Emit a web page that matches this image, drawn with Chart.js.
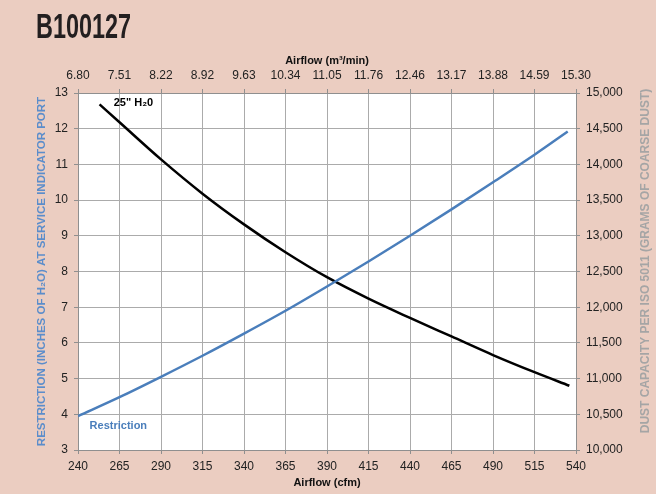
<!DOCTYPE html>
<html>
<head>
<meta charset="utf-8">
<title>B100127</title>
<script src="https://cdn.jsdelivr.net/npm/chart.js@4.4.1/dist/chart.umd.min.js"></script>
<style>
  html, body { margin: 0; padding: 0; background: #ebcdc1; }
  #wrap { width: 656px; height: 494px; }
</style>
</head>
<body>
<div id="wrap"><canvas id="filterChart" width="656" height="494"></canvas></div>
<script>
// top axis labels (m3/min), one per 25 cfm step
const m3Labels = ['6.80', '7.51', '8.22', '8.92', '9.63', '10.34', '11.05', '11.76', '12.46', '13.17', '13.88', '14.59', '15.30'];

// restriction curve, left axis (inches of H2O)
const restrictionCfm = [240, 265, 290, 315, 340, 365, 390, 415, 440, 465, 490, 515, 535];
const restrictionVals = [3.95, 4.48, 5.05, 5.64, 6.26, 6.90, 7.58, 8.28, 9.00, 9.74, 10.50, 11.27, 11.92];

// dust capacity curve at 25" H2O, right axis (grams)
const dustCfm = [253, 265, 290, 315, 340, 365, 390, 415, 440, 465, 490, 515, 536];
const dustVals = [14840, 14590, 14070, 13590, 13160, 12770, 12420, 12120, 11850, 11590, 11330, 11090, 10900];

const toPoints = (xs, ys) => xs.map((x, i) => ({ x: x, y: ys[i] }));

const FONT = '"Liberation Sans", Arial, sans-serif';
const BLUE = '#4a7ebb';
const GRID = '#ababab';
const EDGE = '#8f8f8f';

const decorPlugin = {
  id: 'decor',
  beforeDraw(chart) {
    const ctx = chart.ctx, a = chart.chartArea;
    ctx.save();
    ctx.fillStyle = '#ebcdc1';
    ctx.fillRect(0, 0, chart.width, chart.height);
    ctx.fillStyle = '#ffffff';
    ctx.fillRect(a.left, a.top, a.right - a.left, a.bottom - a.top);
    ctx.restore();
  },
  afterDraw(chart) {
    const ctx = chart.ctx;
    const x = chart.scales.x, y = chart.scales.y;
    ctx.save();
    // big model number, squeezed to a condensed look
    ctx.fillStyle = '#231f20';
    ctx.textBaseline = 'alphabetic';
    ctx.textAlign = 'left';
    ctx.font = 'bold 35px "Liberation Sans Narrow", "Liberation Sans", sans-serif';
    const w = ctx.measureText('B100127').width;
    ctx.translate(36, 38);
    ctx.scale(95 / w, 1);
    ctx.fillText('B100127', 0, 0);
    ctx.restore();

    // right axis title, reading bottom to top
    ctx.save();
    ctx.translate(646, 261);
    ctx.rotate(-Math.PI / 2);
    ctx.fillStyle = '#a5a5a5';
    ctx.font = 'bold 12px ' + FONT;
    ctx.textAlign = 'center';
    ctx.textBaseline = 'middle';
    ctx.fillText('DUST CAPACITY PER ISO 5011 (GRAMS OF COARSE DUST)', 0, 0);
    ctx.restore();

    // curve labels
    ctx.save();
    ctx.font = 'bold 11px ' + FONT;
    ctx.textBaseline = 'middle';
    ctx.textAlign = 'left';
    ctx.fillStyle = '#000000';
    ctx.fillText('25" H\u20820', x.getPixelForValue(261.5), y.getPixelForValue(12.73));
    ctx.fillStyle = BLUE;
    ctx.fillText('Restriction', x.getPixelForValue(247), y.getPixelForValue(3.67));
    ctx.restore();
  }
};

const ctx = document.getElementById('filterChart').getContext('2d');
const chart = new Chart(ctx, {
  type: 'line',
  data: {
    datasets: [{
      label: 'Restriction',
      data: toPoints(restrictionCfm, restrictionVals),
      borderColor: BLUE,
      borderWidth: 2.5,
      pointRadius: 0,
      cubicInterpolationMode: 'monotone',
      xAxisID: 'x',
      yAxisID: 'y'
    }, {
      label: 'Dust capacity',
      data: toPoints(dustCfm, dustVals),
      borderColor: '#000000',
      borderWidth: 2.5,
      pointRadius: 0,
      cubicInterpolationMode: 'monotone',
      xAxisID: 'x',
      yAxisID: 'y2'
    }]
  },
  options: {
    responsive: false,
    animation: false,
    layout: { padding: { left: 30, top: 50, right: 0, bottom: 0 } },
    plugins: {
      legend: { display: false },
      tooltip: { enabled: false }
    },
    scales: {
      x: {
        type: 'linear',
        position: 'bottom',
        min: 240,
        max: 540,
        ticks: { stepSize: 25, autoSkip: false, maxRotation: 0, padding: 5, color: '#222', font: { family: FONT, size: 12 } },
        grid: { color: GRID, tickLength: 4, tickColor: EDGE },
        border: { color: EDGE },
        title: { display: true, text: 'Airflow (cfm)', color: '#111', font: { family: FONT, size: 11, weight: 'bold' }, padding: { top: 0, bottom: 4 } },
        afterFit: (s) => { s.height = 44; }
      },
      x2: {
        type: 'linear',
        position: 'top',
        min: 240,
        max: 540,
        ticks: {
          stepSize: 25, autoSkip: false, maxRotation: 0, padding: 6, color: '#222',
          font: { family: FONT, size: 12 },
          callback: (v, i) => m3Labels[i]
        },
        grid: { drawOnChartArea: false, tickLength: 4, tickColor: EDGE },
        border: { color: EDGE },
        title: { display: true, text: 'Airflow (m\u00b3/min)', color: '#111', font: { family: FONT, size: 11, weight: 'bold' }, padding: { top: 4, bottom: 0 } },
        afterFit: (s) => { s.height = 43; }
      },
      y: {
        position: 'left',
        min: 3,
        max: 13,
        ticks: { stepSize: 1, autoSkip: false, padding: 6, color: '#222', font: { family: FONT, size: 12 } },
        grid: { color: GRID, tickLength: 4, tickColor: EDGE },
        border: { color: EDGE },
        title: { display: true, text: 'RESTRICTION (INCHES OF H\u2082O) AT SERVICE INDICATOR PORT', color: '#5b8dcb', font: { family: FONT, size: 11.5, weight: 'bold' }, padding: { top: 5, bottom: 0 } },
        afterFit: (s) => { s.width = 48; }
      },
      y2: {
        position: 'right',
        min: 10000,
        max: 15000,
        ticks: {
          stepSize: 500, autoSkip: false, padding: 6, color: '#222',
          font: { family: FONT, size: 12 },
          callback: (v) => v.toLocaleString('en-US')
        },
        grid: { drawOnChartArea: false, tickLength: 4, tickColor: EDGE },
        border: { color: EDGE },
        afterFit: (s) => { s.width = 80; }
      }
    }
  },
  plugins: [decorPlugin]
});
</script>
</body>
</html>
